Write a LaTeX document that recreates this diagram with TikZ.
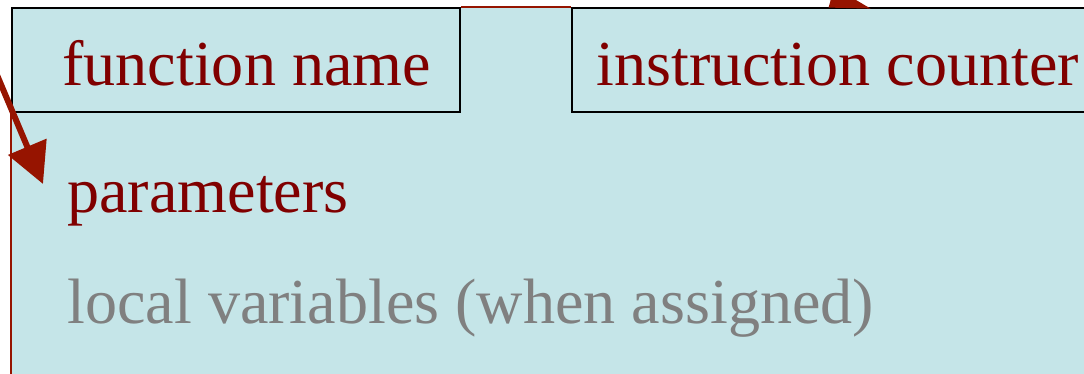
\documentclass[tikz,border=0pt]{standalone}
\usepackage{fontspec}
\setmainfont{Liberation Serif}
\usetikzlibrary{positioning,arrows.meta}
\newdimen\pxu \pxu=0.02cm
\definecolor{stackbg}{HTML}{C5E5E8}
\definecolor{namered}{HTML}{800000}
\definecolor{ptrred}{HTML}{961400}
\newcommand*{\lbl}[1]{\fontsize{36.5}{43}\selectfont #1}

\begin{document}
\begin{tikzpicture}[x=0.02cm,y=-0.02cm,
  box/.style={draw=black,line width=2\pxu,fill=stackbg,
              minimum width=#1,minimum height=104\pxu,inner sep=0pt},
  txt/.style={anchor=base west,inner sep=0pt,text=namered},
  ptr/.style={ptrred,line width=6\pxu,
              -{Triangle[length=23pt,width=23pt]}}]
\path[use as bounding box] (0,0) rectangle (1084,373);
\clip (0,0) rectangle (1084,373);
% Frame area
\fill[stackbg] (12,8) rectangle (1120,400);
% Header boxes
\node[box=448\pxu] (fnbox) at (236,60) {};
\node[box=514\pxu] (icbox) at (829,60) {};
% Frame edges in red
\draw[ptrred,line width=2.5\pxu] (fnbox.north east) -- (icbox.north west);
\draw[ptrred,line width=2.5\pxu] (fnbox.south west) -- ++(0,280);
% Pointers
\coordinate (src1) at (-22,30);
\coordinate (tip1) at (43,184);
\draw[ptr] (src1) -- (tip1);
\coordinate (src2) at (680,-46);
\coordinate (tip2) at (872,9);
\draw[ptr,-{Triangle[length=24pt,width=11pt]}] (src2) -- (tip2);
% Texts
\node[txt] (fname) at (62,85) {\lbl{function name}};
\node[txt] (icount) at (596,85) {\lbl{instruction counter}};
\node[txt] (params) at (67,212) {\lbl{parameters}};
\node[txt,text=gray] (locals) at (67,323) {\lbl{local variables (when assigned)}};
\end{tikzpicture}
\end{document}
